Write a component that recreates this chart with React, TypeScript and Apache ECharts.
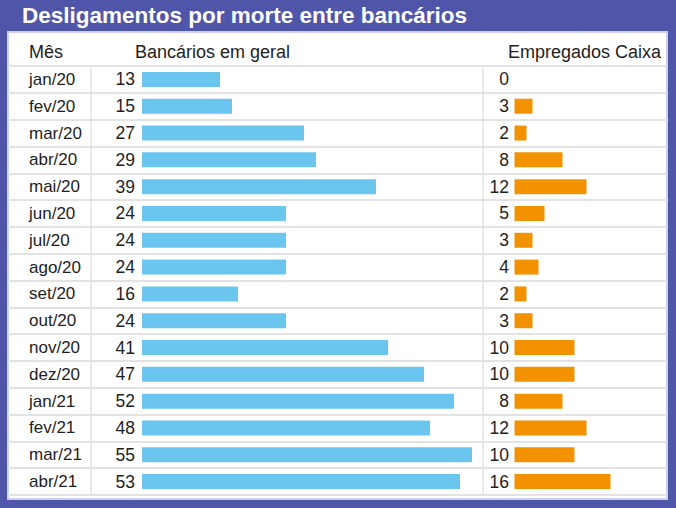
import React, { useEffect, useRef } from "react";
import * as echarts from "echarts";

const title = "Desligamentos por morte entre bancários";
const headers = ["Mês", "Bancários em geral", "Empregados Caixa"];
const months = ["jan/20", "fev/20", "mar/20", "abr/20", "mai/20", "jun/20", "jul/20", "ago/20", "set/20", "out/20", "nov/20", "dez/20", "jan/21", "fev/21", "mar/21", "abr/21"];
const bancarios = [13, 15, 27, 29, 39, 24, 24, 24, 16, 24, 41, 47, 52, 48, 55, 53];
const caixa = [0, 3, 2, 8, 12, 5, 3, 4, 2, 3, 10, 10, 8, 12, 10, 16];

const FONT = "'Liberation Sans', Arial, Helvetica, sans-serif";
const TEXT = "#1e1e1e";
const LINE = "#e3e3e3";
const TOP = 66;
const H = 429;

export default function App() {
  const ref = useRef<HTMLDivElement>(null);
  useEffect(() => {
    if (!ref.current) return;
    const chart = echarts.init(ref.current, null, { renderer: "svg" });
    const bandAxis = (gridIndex: number, show: boolean) => ({
      type: "category",
      gridIndex,
      data: months,
      inverse: true,
      show: true,
      axisLine: { show: false },
      axisTick: { show: false },
      axisLabel: show
        ? { show: true, inside: true, margin: 21, align: "left", fontSize: 17, color: TEXT, fontFamily: FONT }
        : { show: false },
      splitLine: show ? { show: true, lineStyle: { color: LINE, width: 2 } } : { show: false },
    });
    chart.setOption({
      animation: false,
      backgroundColor: "#4f55a8",
      textStyle: { fontFamily: FONT },
      grid: [
        { left: 8, width: 659, top: TOP, height: H },
        { left: 142, width: 330, top: TOP, height: H },
        { left: 514.5, width: 96, top: TOP, height: H },
      ],
      xAxis: [
        { type: "value", gridIndex: 0, min: 0, max: 1, show: false },
        { type: "value", gridIndex: 1, min: 0, max: 55, show: false },
        { type: "value", gridIndex: 2, min: 0, max: 16, show: false },
      ],
      yAxis: [bandAxis(0, true), bandAxis(1, false), bandAxis(2, false)],
      graphic: [
        {
          type: "rect",
          z: -10,
          shape: { x: 8, y: 32, width: 659, height: 467 },
          style: { fill: "#ffffff", stroke: "#cdcfec", lineWidth: 2 },
        },
        {
          type: "text",
          x: 22,
          y: 15,
          style: { text: title, fill: "#ffffff", font: `bold 22.5px ${FONT}`, verticalAlign: "middle" },
        },
        {
          type: "text",
          x: 29,
          y: 52,
          style: { text: headers[0], fill: TEXT, font: `18px ${FONT}`, verticalAlign: "middle" },
        },
        {
          type: "text",
          x: 135,
          y: 52,
          style: { text: headers[1], fill: TEXT, font: `18px ${FONT}`, verticalAlign: "middle" },
        },
        {
          type: "text",
          x: 661,
          y: 52,
          style: { text: headers[2], fill: TEXT, font: `18px ${FONT}`, verticalAlign: "middle", align: "right" },
        },
        {
          type: "line",
          shape: { x1: 91, y1: TOP, x2: 91, y2: TOP + H },
          style: { stroke: LINE, lineWidth: 1.5 },
        },
        {
          type: "line",
          shape: { x1: 483, y1: TOP, x2: 483, y2: TOP + H },
          style: { stroke: LINE, lineWidth: 1.5 },
        },
      ],
      series: [
        {
          type: "bar",
          xAxisIndex: 1,
          yAxisIndex: 1,
          data: bancarios,
          barWidth: 15,
          itemStyle: { color: "#6bc6ef" },
          label: { show: true, position: "left", distance: 7, fontSize: 17.5, color: TEXT, fontFamily: FONT },
        },
        {
          type: "bar",
          xAxisIndex: 2,
          yAxisIndex: 2,
          data: caixa,
          barWidth: 15,
          itemStyle: { color: "#f39200" },
          label: { show: true, position: "left", distance: 5.5, fontSize: 17.5, color: TEXT, fontFamily: FONT },
        },
      ],
    });
    return () => chart.dispose();
  }, []);
  return <div ref={ref} style={{ position: "fixed", left: 0, top: 0, width: 676, height: 508 }} />;
}
